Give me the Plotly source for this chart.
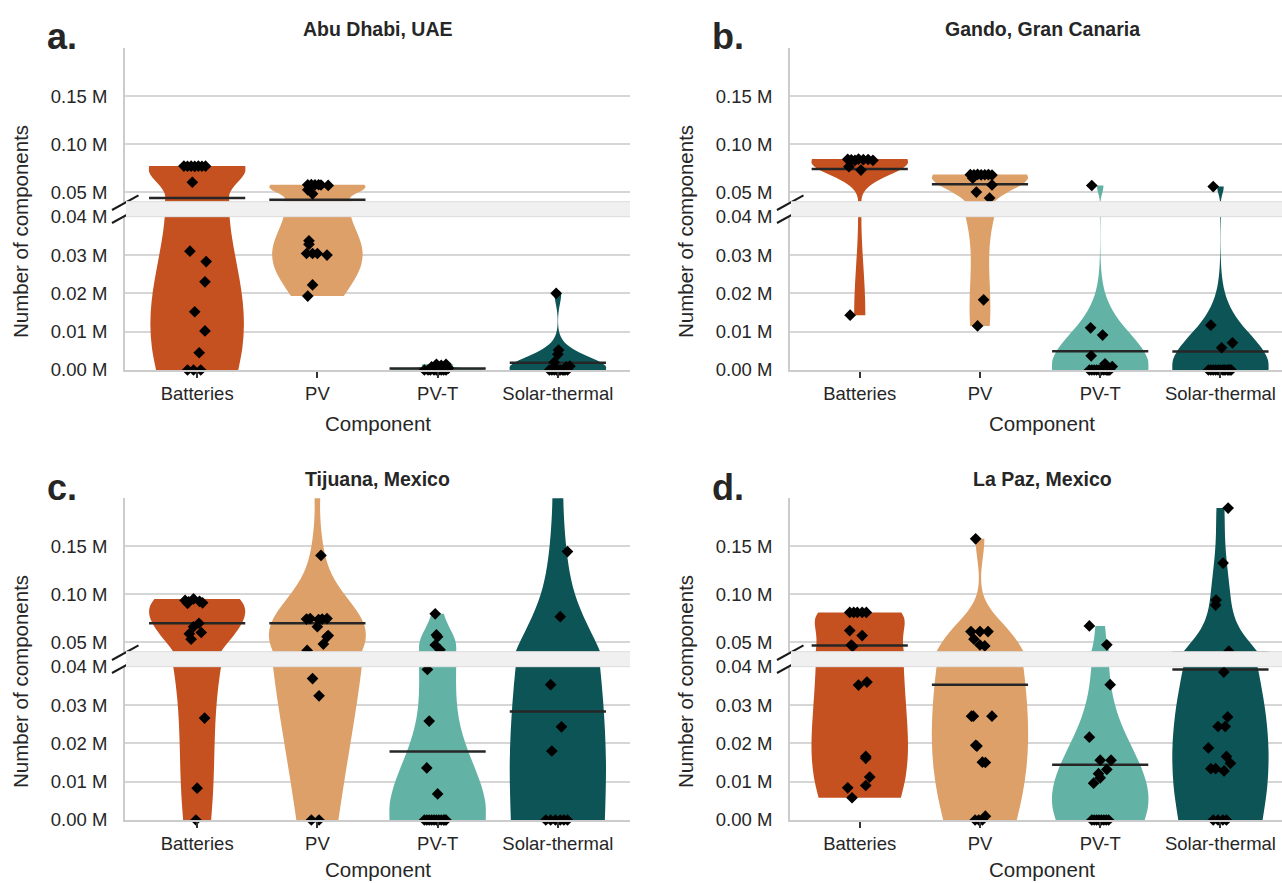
import numpy as np
import plotly.graph_objects as go

# ---------------------------------------------------------------- data
# Number of components per scenario, in millions (M)
components = ["Batteries", "PV", "PV-T", "Solar-thermal"]
sites = ["Abu Dhabi, UAE", "Gando, Gran Canaria", "Tijuana, Mexico", "La Paz, Mexico"]
panel_letters = ["a.", "b.", "c.", "d."]
colors = ["#C4511F", "#DCA068", "#62B3A5", "#0C5456"]

lower_ticks = [0.0, 0.01, 0.02, 0.03, 0.04]
lower_labels = ["0.00 M", "0.01 M", "0.02 M", "0.03 M", "0.04 M"]
upper_ticks = [0.04, 0.05, 0.10, 0.15]
upper_labels = ["", "0.05 M", "0.10 M", "0.15 M"]

# Abu Dhabi, UAE
a_bat = [0.0772, 0.0770, 0.0771, 0.0769, 0.0772, 0.0770, 0.0771, 0.0603, 0.0310,
         0.0283, 0.0230, 0.0152, 0.0102, 0.0045, 0.0, 0.0, 0.0]
a_pv = [0.0576, 0.0578, 0.0575, 0.0577, 0.0574, 0.0570, 0.0524, 0.0482, 0.0337,
        0.0328, 0.0304, 0.0304, 0.0304, 0.0300, 0.0222, 0.0193]
a_pvt = [0.0015, 0.0015, 0.0012, 0.0008, 0.0005, 0.0, 0.0, 0.0, 0.0, 0.0, 0.0, 0.0,
         0.0, 0.0]
a_st = [0.0200, 0.0052, 0.0041, 0.0020, 0.0010, 0.0008, 0.0, 0.0, 0.0, 0.0, 0.0, 0.0,
        0.0, 0.0, 0.0, 0.0, 0.0]
a_means = [0.0438, 0.0420, 0.0004, 0.0019]

# Gando, Gran Canaria
b_bat = [0.0842, 0.0836, 0.0830, 0.0845, 0.0838, 0.0840, 0.0832, 0.0765, 0.0730, 0.0143]
b_pv = [0.0682, 0.0680, 0.0684, 0.0679, 0.0681, 0.0683, 0.0678, 0.0645, 0.0575,
        0.0500, 0.0438, 0.0183, 0.0115]
b_pvt = [0.0569, 0.0110, 0.0091, 0.0037, 0.0016, 0.0009, 0.0, 0.0, 0.0, 0.0, 0.0, 0.0,
         0.0, 0.0, 0.0, 0.0, 0.0]
b_st = [0.0558, 0.0117, 0.0071, 0.0058, 0.0, 0.0, 0.0, 0.0, 0.0, 0.0, 0.0, 0.0, 0.0,
        0.0, 0.0, 0.0, 0.0]
b_means = [0.0741, 0.0583, 0.0049, 0.0048]

# Tijuana, Mexico
c_bat = [0.0950, 0.0935, 0.0920, 0.0925, 0.0910, 0.0905, 0.0697, 0.0660, 0.0600,
         0.0586, 0.0531, 0.0266, 0.0083, 0.0]
c_pv = [0.2400, 0.1404, 0.0740, 0.0745, 0.0735, 0.0740, 0.0745, 0.0660, 0.0568,
        0.0555, 0.0480, 0.0413, 0.0369, 0.0324, 0.0, 0.0]
c_pvt = [0.0795, 0.0575, 0.0555, 0.0470, 0.0420, 0.0393, 0.0258, 0.0136, 0.0068,
         0.0, 0.0, 0.0, 0.0, 0.0, 0.0, 0.0, 0.0, 0.0, 0.0, 0.0]
c_st = [0.2600, 0.1444, 0.0765, 0.0353, 0.0243, 0.0180, 0.0, 0.0, 0.0, 0.0, 0.0, 0.0]
c_means = [0.0697, 0.0697, 0.0179, 0.0283]

# La Paz, Mexico
d_bat = [0.0810, 0.0810, 0.0810, 0.0810, 0.0810, 0.0620, 0.0568, 0.0470, 0.0455,
         0.0360, 0.0352, 0.0166, 0.0161, 0.0112, 0.0090, 0.0084, 0.0058]
d_pv = [0.1577, 0.0610, 0.0610, 0.0610, 0.0531, 0.0470, 0.0460, 0.0271, 0.0271,
        0.0271, 0.0195, 0.0193, 0.0151, 0.0150, 0.0010, 0.0, 0.0, 0.0]
d_pvt = [0.0669, 0.0472, 0.0353, 0.0216, 0.0156, 0.0156, 0.0132, 0.0121, 0.0110,
         0.0096, 0.0, 0.0, 0.0, 0.0, 0.0, 0.0, 0.0, 0.0]
d_st = [0.1898, 0.1324, 0.0938, 0.0886, 0.0405, 0.0386, 0.0269, 0.0244, 0.0244,
        0.0188, 0.0166, 0.0148, 0.0134, 0.0134, 0.0128, 0.0, 0.0, 0.0, 0.0]
d_means = [0.0465, 0.0353, 0.0144, 0.0393]

# horizontal strip-plot jitter of each point (category units)
a_bat_jit = [-0.11, -0.08, -0.05, -0.02, 0.01, 0.04, 0.07, -0.04, -0.06, 0.075, 0.065,
             -0.02, 0.065, 0.017, -0.08, -0.03, 0.03]
a_pv_jit = [-0.08, -0.05, -0.02, 0.01, 0.03, 0.09, -0.08, -0.04, -0.07, -0.07, -0.09,
            -0.04, 0.0, 0.08, -0.04, -0.08]
a_pvt_jit = [-0.01, 0.07, 0.03, -0.05, 0.09, -0.11, -0.08, -0.06, -0.03, -0.01, 0.01,
             0.03, 0.05, 0.07]
a_st_jit = [-0.014, 0.006, 0.0, -0.03, 0.1, 0.07, -0.07, -0.05, -0.03, -0.01, 0.0,
            0.01, 0.02, 0.04, 0.05, 0.06, 0.08]
b_bat_jit = [-0.1, -0.07, -0.04, -0.01, 0.03, 0.07, 0.11, -0.09, 0.01, -0.08]
b_pv_jit = [-0.08, -0.05, -0.02, 0.01, 0.04, 0.07, 0.1, -0.06, 0.1, -0.03, 0.08, 0.03, -0.02]
b_pvt_jit = [-0.07, -0.08, 0.02, -0.075, 0.04, 0.1, -0.09, -0.07, -0.05, -0.03, -0.01,
             0.01, 0.03, 0.05, 0.06, 0.07, 0.08]
b_st_jit = [-0.06, -0.08, 0.1, 0.01, -0.1, -0.08, -0.06, -0.04, -0.02, 0.0, 0.02, 0.03,
            0.04, 0.06, 0.07, 0.08, 0.09]
c_bat_jit = [-0.03, -0.1, -0.07, 0.02, 0.045, -0.08, 0.015, -0.03, 0.034, -0.065, -0.05,
             0.062, 0.0, -0.01]
c_pv_jit = [0.0, 0.03, -0.09, -0.06, 0.01, 0.04, 0.08, 0.0, 0.09, 0.08, 0.05, -0.085,
            -0.04, 0.014, -0.05, 0.014]
c_pvt_jit = [-0.02, -0.01, 0.0, -0.02, 0.02, -0.085, -0.07, -0.09, 0.0, -0.11, -0.09,
             -0.07, -0.05, -0.03, -0.01, 0.01, 0.03, 0.05, 0.06, 0.07]
c_st_jit = [0.0, 0.08, 0.02, -0.06, 0.03, -0.05, -0.1, -0.06, -0.02, 0.02, 0.05, 0.08]
d_bat_jit = [-0.083, -0.05, -0.02, 0.02, 0.055, -0.083, 0.02, -0.07, -0.06, 0.06, -0.01,
             0.05, 0.05, 0.083, 0.05, -0.1, -0.064]
d_pv_jit = [-0.036, -0.075, 0.0, 0.067, -0.05, 0.0, 0.04, -0.07, -0.055, 0.1, -0.035,
            -0.025, 0.02, 0.045, 0.045, -0.04, -0.01, 0.02]
d_pvt_jit = [-0.09, 0.055, 0.083, -0.09, 0.0, 0.09, 0.055, -0.014, 0.0, -0.055, -0.07,
             -0.05, -0.03, -0.01, 0.01, 0.03, 0.05, 0.07]
d_st_jit = [0.064, 0.022, -0.036, -0.04, 0.07, 0.028, 0.06, -0.02, 0.04, -0.1, 0.05,
            0.083, -0.08, -0.04, 0.03, -0.06, -0.02, 0.02, 0.05]

panel_values = [
    [a_bat, a_pv, a_pvt, a_st],
    [b_bat, b_pv, b_pvt, b_st],
    [c_bat, c_pv, c_pvt, c_st],
    [d_bat, d_pv, d_pvt, d_st],
]
panel_jitter = [
    [a_bat_jit, a_pv_jit, a_pvt_jit, a_st_jit],
    [b_bat_jit, b_pv_jit, b_pvt_jit, b_st_jit],
    [c_bat_jit, c_pv_jit, c_pvt_jit, c_st_jit],
    [d_bat_jit, d_pv_jit, d_pvt_jit, d_st_jit],
]
panel_means = [a_means, b_means, c_means, d_means]

# ---------------------------------------------------------------- styling / layout
W, H = 1282, 883
FONT = "Liberation Sans"
INK = "#262626"
GRID = "#d6d6d6"
SPINE = "#cccccc"
BAND = "#f0f0f0"

LOWER_RANGE = [0.0, 0.04]
UPPER_RANGE = [0.04, 0.20]
VIOLIN_WIDTH = 0.8

# pixel geometry of each panel (columns / rows)
col_left = [125, 790]
col_right = [630, 1282]
col_xrange = [[-0.6, 3.6], [-0.58, 3.512]]
col_center_x = [377.5, 1042.0]
col_shift = [0, 665]
row_shift = [0, 450]
xtitle_y = [423, 869]
TOP, UPPER_BOTTOM, LOWER_TOP, BOTTOM = 48.3, 201.7, 216.7, 370.0


def fx(px):
    return px / W


def fy(py):
    return 1 - py / H


def ax_name(prefix, i):
    return prefix if i == 1 else f"{prefix}{i}"


fig = go.Figure()
layout_axes = {}
shapes = []
annotations = []

for k in range(4):
    col, row = k % 2, k // 2
    dy = row_shift[row]
    xi, yl, yu = k + 1, 2 * k + 1, 2 * k + 2
    xref, ylref, yuref = ax_name("x", xi), ax_name("y", yl), ax_name("y", yu)

    tickfont = dict(family=FONT, size=18.5, color=INK)
    layout_axes[ax_name("xaxis", xi)] = dict(
        domain=[fx(col_left[col]), fx(col_right[col])], range=col_xrange[col],
        anchor=ylref, tickmode="array", tickvals=[0, 1, 2, 3], ticktext=components,
        ticks="outside", ticklen=6, tickwidth=1.5, tickcolor="#333333",
        showline=True, linecolor=SPINE, linewidth=2, showgrid=False, zeroline=False,
        tickfont=tickfont, fixedrange=True, automargin=False,
    )
    common_y = dict(
        anchor=xref, showgrid=True, gridcolor=GRID, gridwidth=1.5, showline=True,
        linecolor=SPINE, linewidth=2, zeroline=False, ticks="", tickmode="array",
        ticklabelstandoff=12, tickfont=tickfont, fixedrange=True, automargin=False,
    )
    layout_axes[ax_name("yaxis", yl)] = dict(
        domain=[fy(BOTTOM + dy), fy(LOWER_TOP + dy)], range=LOWER_RANGE,
        tickvals=lower_ticks, ticktext=lower_labels, **common_y)
    layout_axes[ax_name("yaxis", yu)] = dict(
        domain=[fy(UPPER_BOTTOM + dy), fy(TOP + dy)], range=UPPER_RANGE,
        tickvals=upper_ticks, ticktext=upper_labels, **common_y)

    # violins (drawn once on each part of the broken axis)
    for j, comp in enumerate(components):
        v = np.asarray(panel_values[k][j], dtype=float)
        bw = float(np.std(v, ddof=1) * len(v) ** (-0.2))
        for yref in (ylref, yuref):
            fig.add_trace(go.Violin(
                x=[j] * len(v), y=v, xaxis=xref, yaxis=yref,
                width=VIOLIN_WIDTH, scalemode="width", spanmode="hard", bandwidth=bw,
                points=False, fillcolor=colors[j], line=dict(width=0, color=colors[j]),
                opacity=1, box_visible=False, meanline_visible=False,
                showlegend=False, hoverinfo="skip", name=comp,
            ))

    # mean lines
    for j, m in enumerate(panel_means[k]):
        for yref in (ylref, yuref):
            fig.add_trace(go.Scatter(
                x=[j - VIOLIN_WIDTH / 2, j + VIOLIN_WIDTH / 2], y=[m, m],
                xaxis=xref, yaxis=yref, mode="lines",
                line=dict(color=INK, width=2.5), showlegend=False, hoverinfo="skip",
            ))

    # jittered points
    for j in range(4):
        v = np.asarray(panel_values[k][j], dtype=float)
        xs = j + np.asarray(panel_jitter[k][j], dtype=float)
        low = v <= LOWER_RANGE[1] + 0.0002
        up = (v > UPPER_RANGE[0] - 0.0002) & (v <= UPPER_RANGE[1] + 0.0005)
        for mask, yref in ((low, ylref), (up, yuref)):
            fig.add_trace(go.Scatter(
                x=xs[mask], y=v[mask], xaxis=xref, yaxis=yref, mode="markers",
                marker=dict(symbol="diamond", size=9, color="black", line=dict(width=0)),
                cliponaxis=False, showlegend=False, hoverinfo="skip",
            ))

    # axis-break marks, then the grey gap band on top of them
    x0 = col_left[col]
    for (ax0, ay0, ax1, ay1) in ((x0 - 13, UPPER_BOTTOM + 8.3, x0 + 13.5, UPPER_BOTTOM - 6.3),
                                 (x0 - 13, LOWER_TOP + 6.3, x0 + 13.5, LOWER_TOP - 8.3)):
        shapes.append(dict(type="line", xref="paper", yref="paper", layer="above",
                           x0=fx(ax0), y0=fy(ay0 + dy), x1=fx(ax1), y1=fy(ay1 + dy),
                           line=dict(color="#1a1a1a", width=2)))
    shapes.append(dict(type="rect", xref="paper", yref="paper", layer="above",
                       x0=fx(x0 + 1), x1=fx(col_right[col]),
                       y0=fy(LOWER_TOP + dy), y1=fy(UPPER_BOTTOM + dy),
                       fillcolor=BAND, line=dict(width=0)))
    for yy in (UPPER_BOTTOM, LOWER_TOP):
        shapes.append(dict(type="line", xref="paper", yref="paper", layer="above",
                           x0=fx(x0 + 1), x1=fx(col_right[col]),
                           y0=fy(yy + dy), y1=fy(yy + dy),
                           line=dict(color="#dcdcdc", width=1)))

    # titles and labels
    annotations.append(dict(
        text=f"<b>{sites[k]}</b>", x=fx(col_center_x[col]), y=fy(29 + dy),
        xref="paper", yref="paper", xanchor="center", yanchor="middle", showarrow=False,
        font=dict(family=FONT, size=19.5, color=INK)))
    annotations.append(dict(
        text=f"<b>{panel_letters[k]}</b>", x=fx(45 + col_shift[col]), y=fy(37 + dy),
        xref="paper", yref="paper", xanchor="left", yanchor="middle", showarrow=False,
        font=dict(family=FONT, size=36, color=INK)))
    annotations.append(dict(
        text="Number of components", x=fx(20 + col_shift[col]), y=fy(232 + dy),
        xref="paper", yref="paper", xanchor="center", yanchor="middle", showarrow=False,
        textangle=-90, font=dict(family=FONT, size=20.5, color=INK)))
    annotations.append(dict(
        text="Component", x=fx(col_center_x[col]), y=fy(xtitle_y[row]),
        xref="paper", yref="paper", xanchor="center", yanchor="middle", showarrow=False,
        font=dict(family=FONT, size=20.5, color=INK)))

fig.update_layout(
    width=W, height=H, margin=dict(l=0, r=0, t=0, b=0, autoexpand=False),
    paper_bgcolor="white", plot_bgcolor="white",
    violinmode="overlay", showlegend=False,
    font=dict(family=FONT, color=INK),
    shapes=shapes, annotations=annotations,
    **layout_axes,
)

fig.write_html("out.html", config={"displayModeBar": False})
